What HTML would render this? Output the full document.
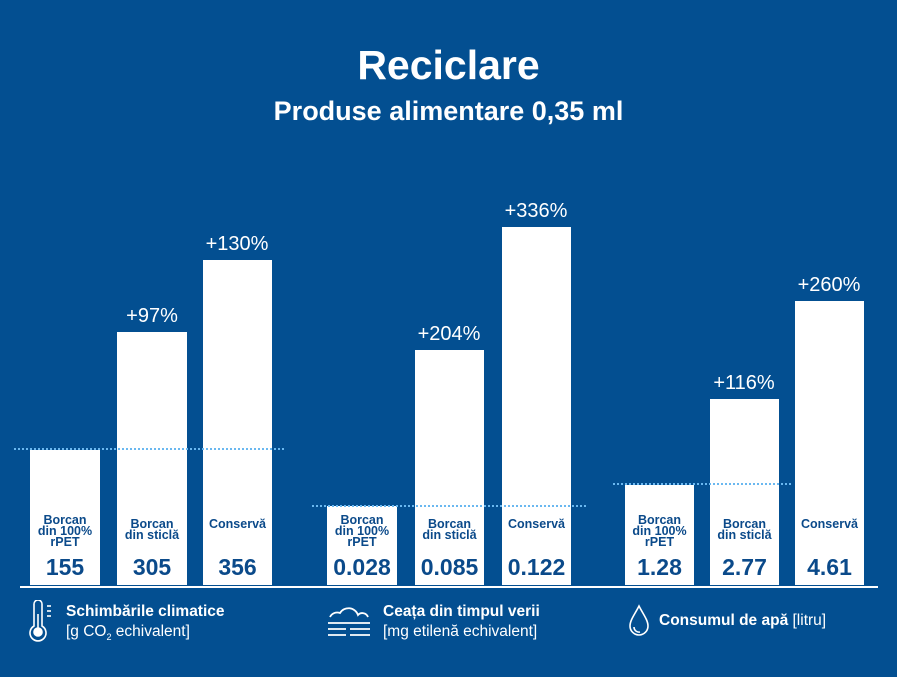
<!DOCTYPE html>
<html><head><meta charset="utf-8"><style>
body{margin:0;width:897px;height:677px;background:#034f91;overflow:hidden;font-family:"Liberation Sans",sans-serif;position:relative;color:#fff}
.t{position:absolute;left:0;width:897px;text-align:center;font-weight:bold}
.bar{position:absolute;background:#fff;bottom:92px}
.pct{position:absolute;width:100px;text-align:center;font-size:20px;color:#fff}
.lb{position:absolute;bottom:0;width:100%;text-align:center;color:#0b4a8a;font-weight:bold}
.lb .s{font-size:12.5px;line-height:11px}
.lb .n{font-size:23px;margin-top:6px;margin-bottom:4px}
.dot{position:absolute;border-top:2px dotted #6ab8f0;height:0;z-index:5}
.lg{position:absolute;font-size:15.5px;line-height:20px}
</style></head><body>
<div class="t" style="top:42px;font-size:41px">Reciclare</div>
<div class="t" style="top:96px;font-size:27px">Produse alimentare 0,35 ml</div>

<div class="dot" style="left:14px;width:270px;top:448px"></div>
<div class="dot" style="left:312px;width:274px;top:505px"></div>
<div class="dot" style="left:613px;width:178px;top:483px"></div>

<div class="bar" style="left:30px;width:70px;top:450px"><div class="lb"><div class="s">Borcan<br>din 100%<br>rPET</div><div class="n">155</div></div></div>
<div class="bar" style="left:117px;width:70px;top:332px"><div class="lb"><div class="s">Borcan<br>din sticlă</div><div class="n" style="margin-top:13px">305</div></div></div>
<div class="bar" style="left:203px;width:69px;top:260px"><div class="lb"><div class="s">Conservă</div><div class="n" style="margin-top:24px">356</div></div></div>
<div class="pct" style="left:102px;top:305px">+97%</div>
<div class="pct" style="left:187px;top:233px">+130%</div>

<div class="bar" style="left:327px;width:70px;top:506px"><div class="lb"><div class="s">Borcan<br>din 100%<br>rPET</div><div class="n">0.028</div></div></div>
<div class="bar" style="left:415px;width:69px;top:350px"><div class="lb"><div class="s">Borcan<br>din sticlă</div><div class="n" style="margin-top:13px">0.085</div></div></div>
<div class="bar" style="left:502px;width:69px;top:227px"><div class="lb"><div class="s">Conservă</div><div class="n" style="margin-top:24px">0.122</div></div></div>
<div class="pct" style="left:399px;top:323px">+204%</div>
<div class="pct" style="left:486px;top:200px">+336%</div>

<div class="bar" style="left:625px;width:69px;top:485px"><div class="lb"><div class="s">Borcan<br>din 100%<br>rPET</div><div class="n">1.28</div></div></div>
<div class="bar" style="left:710px;width:69px;top:399px"><div class="lb"><div class="s">Borcan<br>din sticlă</div><div class="n" style="margin-top:13px">2.77</div></div></div>
<div class="bar" style="left:795px;width:69px;top:301px"><div class="lb"><div class="s">Conservă</div><div class="n" style="margin-top:24px">4.61</div></div></div>
<div class="pct" style="left:694px;top:372px">+116%</div>
<div class="pct" style="left:779px;top:274px">+260%</div>

<div style="position:absolute;left:20px;top:586px;width:858px;height:2px;background:#fff"></div>

<svg style="position:absolute;left:28px;top:600px" width="28" height="42" fill="none" stroke="#fff" stroke-width="1.6">
<path d="M6 4a4 4 0 0 1 8 0v22a8 8 0 1 1-8 0z"/><circle cx="10" cy="32" r="4" fill="#fff"/><line x1="10" y1="14" x2="10" y2="28"/>
<line x1="19" y1="6" x2="23" y2="6"/><line x1="19" y1="11" x2="23" y2="11"/><line x1="19" y1="16" x2="23" y2="16"/></svg>
<div class="lg" style="left:66px;top:602px"><b>Schimbările climatice</b><br>[g CO<sub style="font-size:9px">2</sub> echivalent]</div>

<svg style="position:absolute;left:326px;top:603px" width="46" height="36" fill="none" stroke="#fff" stroke-width="1.8">
<path d="M4 14a8 8 0 0 1 10-4a10 10 0 0 1 18 2a6 6 0 0 1 10 2"/><line x1="2" y1="20" x2="44" y2="20"/>
<line x1="2" y1="26" x2="20" y2="26"/><line x1="24" y1="26" x2="44" y2="26"/><line x1="2" y1="32" x2="20" y2="32"/><line x1="24" y1="32" x2="44" y2="32"/></svg>
<div class="lg" style="left:383px;top:602px"><b>Ceața din timpul verii</b><br>[mg etilenă echivalent]</div>

<svg style="position:absolute;left:628px;top:604px" width="22" height="34" fill="none" stroke="#fff" stroke-width="1.6">
<path d="M11 2C7 10 2 16 2 22a9 9 0 0 0 18 0c0-6-5-12-9-20z"/><path d="M6 23a5 5 0 0 0 6 5"/></svg>
<div class="lg" style="left:659px;top:611px"><b>Consumul de apă</b> [litru]</div>
</body></html>
